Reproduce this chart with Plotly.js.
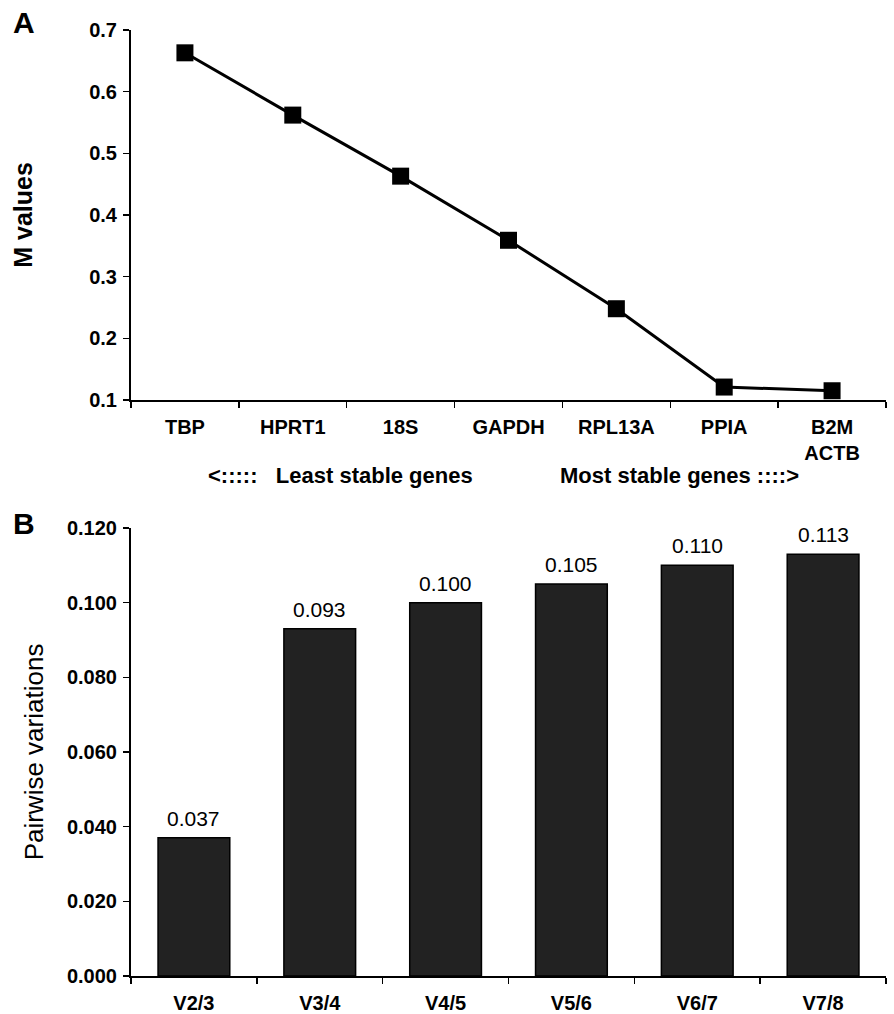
<!DOCTYPE html>
<html>
<head>
<meta charset="utf-8">
<script src="https://cdn.plot.ly/plotly-3.0.1.min.js"></script>
<style>html,body{margin:0;padding:0;background:#fff;}#chart{width:894px;height:1014px;}</style>
</head>
<body>
<div id="chart"></div>
<script>
// Panel A: geNorm M values
const genes = ["TBP", "HPRT1", "18S", "GAPDH", "RPL13A", "PPIA", "B2M<br>ACTB"];
const mValues = [0.663, 0.562, 0.463, 0.359, 0.248, 0.121, 0.115];
const mTicks = [0.1, 0.2, 0.3, 0.4, 0.5, 0.6, 0.7];

// Panel B: pairwise variations
const pairs = ["V2/3", "V3/4", "V4/5", "V5/6", "V6/7", "V7/8"];
const pairValues = [0.037, 0.093, 0.100, 0.105, 0.110, 0.113];
const pairTicks = [0.000, 0.020, 0.040, 0.060, 0.080, 0.100, 0.120];

const FONT = "Arial, 'Liberation Sans', sans-serif";
const boldTick = {family: FONT, size: 20, color: "#000", weight: "bold"};

const traces = [
  {
    type: "scatter", mode: "lines+markers",
    x: genes, y: mValues, xaxis: "x", yaxis: "y",
    line: {color: "#000", width: 3},
    marker: {symbol: "square", size: 17, color: "#000"},
    showlegend: false, hoverinfo: "skip"
  },
  {
    type: "bar",
    x: pairs, y: pairValues, xaxis: "x2", yaxis: "y2",
    width: 0.57,
    marker: {color: "#222222", line: {color: "#000", width: 1.5}},
    showlegend: false, hoverinfo: "skip"
  }
];

const annotations = [
  {text: "<b>A</b>", xref: "paper", yref: "paper", x: 11/894, y: 1 - 22/1014, xanchor: "left", yanchor: "middle", showarrow: false, font: {family: FONT, size: 30, color: "#000"}},
  {text: "<b>B</b>", xref: "paper", yref: "paper", x: 11/894, y: 1 - 523/1014, xanchor: "left", yanchor: "middle", showarrow: false, font: {family: FONT, size: 30, color: "#000"}},
  {text: "<b>&lt;:::::   Least stable genes</b>", xref: "paper", yref: "paper", x: 206/894, y: 1 - 475/1014, xanchor: "left", yanchor: "middle", showarrow: false, font: {family: FONT, size: 22, color: "#000"}},
  {text: "<b>Most stable genes ::::&gt;</b>", xref: "paper", yref: "paper", x: 801/894, y: 1 - 475/1014, xanchor: "right", yanchor: "middle", showarrow: false, font: {family: FONT, size: 22, color: "#000"}}
];
pairs.forEach((p, i) => {
  annotations.push({
    text: pairValues[i].toFixed(3), xref: "x2", yref: "y2", x: p, y: pairValues[i],
    xanchor: "center", yanchor: "bottom", yshift: 6, showarrow: false,
    font: {family: FONT, size: 21, color: "#000"}
  });
});

const layout = {
  width: 894, height: 1014,
  margin: {l: 0, r: 0, t: 0, b: 0},
  paper_bgcolor: "#fff", plot_bgcolor: "#fff",
  showlegend: false,
  font: {family: FONT, color: "#000"},
  xaxis: {
    domain: [131/894, 886/894], anchor: "y",
    type: "category", range: [-0.5, 6.5],
    showline: true, linecolor: "#000", linewidth: 2,
    ticks: "outside", tickson: "boundaries", ticklen: 6, tickwidth: 1.5, tickcolor: "#000",
    ticklabelstandoff: 8,
    showgrid: false, zeroline: false, tickfont: boldTick
  },
  yaxis: {
    domain: [1 - 400/1014, 1 - 30/1014], anchor: "x",
    range: [0.1, 0.7], tickvals: mTicks, ticktext: mTicks.map(v => v.toFixed(1)),
    showline: true, linecolor: "#000", linewidth: 2,
    ticks: "outside", ticklen: 6, tickwidth: 1.5, tickcolor: "#000",
    ticklabelstandoff: 2,
    showgrid: false, zeroline: false, tickfont: boldTick,
    title: {text: "<b>M values</b>", font: {family: FONT, size: 25, color: "#000"}, standoff: 49}
  },
  xaxis2: {
    domain: [131/894, 886/894], anchor: "y2",
    type: "category", range: [-0.5, 5.5],
    showline: true, linecolor: "#000", linewidth: 2,
    ticks: "outside", tickson: "boundaries", ticklen: 6, tickwidth: 1.5, tickcolor: "#000",
    ticklabelstandoff: 8,
    showgrid: false, zeroline: false, tickfont: boldTick
  },
  yaxis2: {
    domain: [38/1014, 1 - 528/1014], anchor: "x2",
    range: [0, 0.12], tickvals: pairTicks, ticktext: pairTicks.map(v => v.toFixed(3)),
    showline: true, linecolor: "#000", linewidth: 2,
    ticks: "outside", ticklen: 6, tickwidth: 1.5, tickcolor: "#000",
    ticklabelstandoff: 2,
    showgrid: false, zeroline: false, tickfont: boldTick,
    title: {text: "Pairwise variations", font: {family: FONT, size: 26, color: "#000"}, standoff: 16}
  },
  annotations: annotations
};

Plotly.newPlot("chart", traces, layout, {staticPlot: true, displayModeBar: false});
</script>
</body>
</html>
